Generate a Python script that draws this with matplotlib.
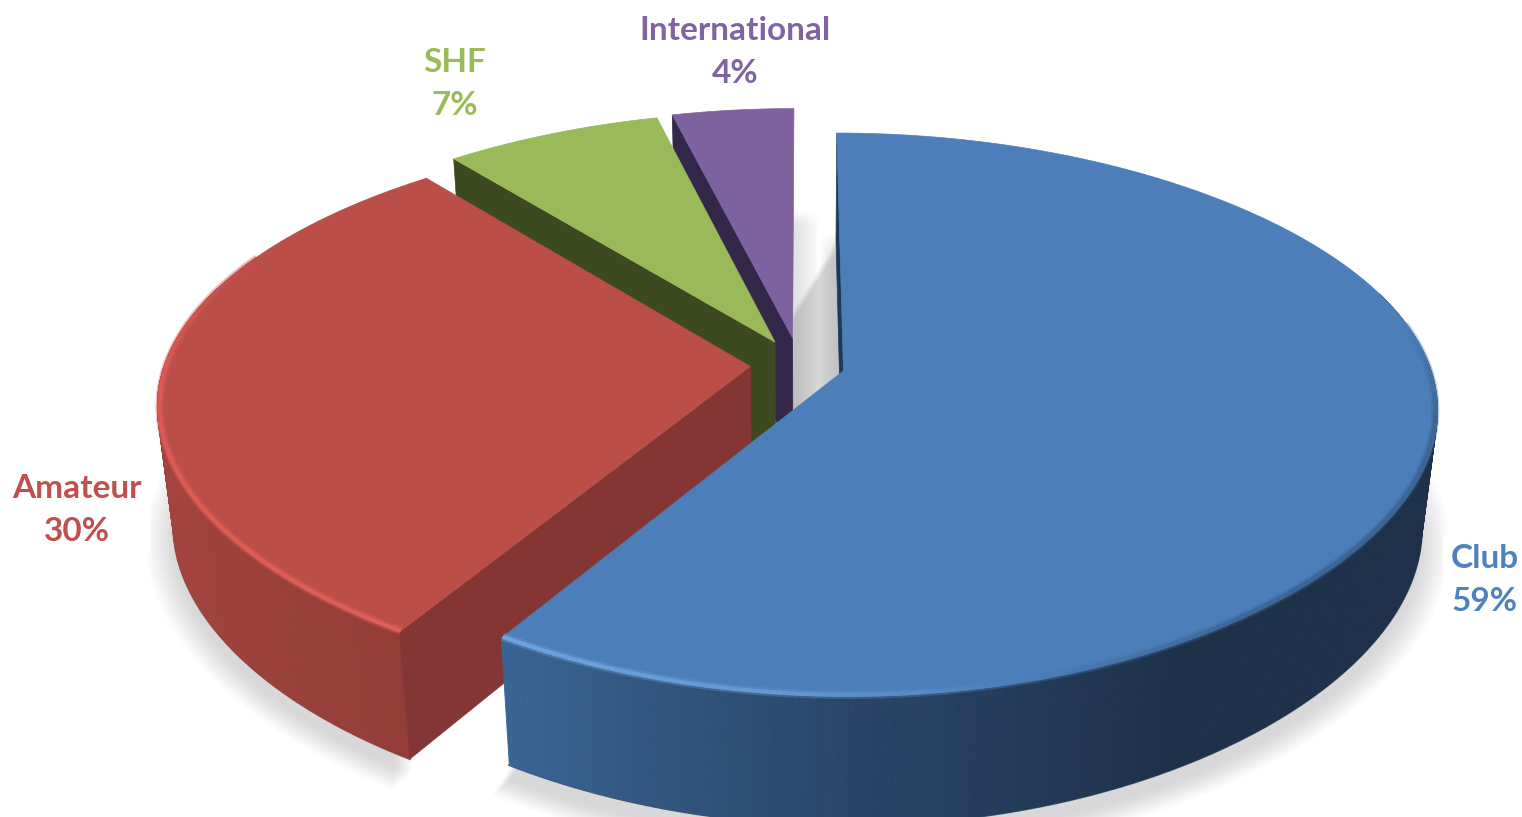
import numpy as np
import matplotlib
matplotlib.use("Agg")
import matplotlib.pyplot as plt
from matplotlib.collections import PolyCollection, LineCollection
from matplotlib.colors import to_rgb

# ---- data ----
categories = ["Club", "Amateur", "SHF", "International"]
values = [59, 30, 7, 4]

# ---- style ----
top_colors = ["#4c7eba", "#bc4e4a", "#9ab958", "#7e62a0"]
text_colors = ["#4f81bd", "#c0504d", "#9bbb59", "#8064a2"]
cut_colors = ["#1c3a58", "#843634", "#3d4920", "#33274a"]
side_stops = [
    [(120, "#1e3149"), (150, "#1e3149"), (180, "#2a4568"), (212, "#3a6494")],
    [(212, "#933d38"), (250, "#a3433e"), (280, "#a5443f"), (325, "#a5443f")],
    [(320, "#3d4920"), (346, "#3d4920")],
    [(346, "#33274a"), (360, "#33274a")],
]
rim_stops = [
    [(0, "#4c7eba"), (80, "#4c7eba"), (100, "#3c6594"), (140, "#3c6594"),
     (165, "#4c7eba"), (185, "#6496d2"), (212, "#6ea4e0")],
    [(212, "#e0605a"), (270, "#dc5a55"), (285, "#cc524e"), (295, "#bc4e4a")],
    [(320, "#9ab958"), (346, "#9ab958")],
    [(346, "#7e62a0"), (360, "#7e62a0")],
]
rim_range = [(80, 212.4), (212.4, 295), None, None]
explode = [0.077, 0.085, 0.095, 0.10]
label_xy = [(1485, 580), (77, 510), (455, 84), (735, 52)]

CX, CY = 800.0, 365.0
SX, KY, H = 586.0, 273.0, 120.0
P, Q = 0.155, 0.025
PX1, PX2 = 0.143, 0.04


def project(u, v, z):
    w = 1 - P * v + Q * z
    wx = 1 - PX1 * v + PX2 * v * v + Q * z
    return CX + SX * u / wx, CY + (KY * v + H * z) / w


def interp_colors(stops, t):
    a = [s[0] for s in stops]
    c = np.array([to_rgb(s[1]) for s in stops])
    return np.column_stack([np.interp(t, a, c[:, i]) for i in range(3)])


fractions = np.array(values, dtype=float) / sum(values)
edges = np.concatenate([[0], np.cumsum(fractions)]) * 360.0

fig = plt.figure(figsize=(15.22, 8.17), dpi=100)
ax = fig.add_axes([0, 0, 1, 1])


def ring(i, t, r, z):
    mid = np.radians((edges[i] + edges[i + 1]) / 2)
    ou, ov = explode[i] * np.sin(mid), -explode[i] * np.cos(mid)
    a = np.radians(t)
    return project(ou + r * np.sin(a), ov - r * np.cos(a), z), (ou, ov)


# soft ground shadow
for e in np.linspace(0.05, 0.0, 14):
    for i in range(len(values)):
        t = np.linspace(edges[i], edges[i + 1], 150)
        (x, y), (ou, ov) = ring(i, t, 1 + e, 1.12)
        ax.fill(x, y, color="#7a7a7a", alpha=0.02, lw=0, zorder=1)

# shadow on the back wall seen through the gap between slices
_, (ou0, ov0) = ring(0, np.array([0.0]), 1, 0)
xc, yc = project(ou0, ov0, 0)
xi, yi = ring(3, np.array([360.0]), 1, 0)[0]
gx = np.linspace(0, 1, 90)
gy = np.linspace(yi[0] + 90, yc + 50, 300)
fx = 0.12 * np.clip(1 - gx * 2.0, 0, 1) ** 0.8 + 0.13 * np.clip((gx - 0.5) / 0.5, 0, 1) ** 0.8
ytop = np.where(gx < 0.5, yi[0] + 102, yi[0] + 124)
fy = np.clip((gy[:, None] - ytop[None, :]) / 14, 0, 1)
rgba = np.zeros((len(gy), len(gx), 4))
rgba[..., 3] = fx[None, :] * fy
ax.imshow(rgba, extent=(xi[0], xc, gy[-1], gy[0]), aspect="auto", zorder=2, interpolation="bilinear")

# labels (white plate hides the shadow, as in the original)
for i, (cat, val) in enumerate(zip(categories, values)):
    ax.text(label_xy[i][0], label_xy[i][1], f"{cat}\n{val}%", ha="center", va="center",
            fontsize=24, fontweight="bold", family="Lato", color=text_colors[i],
            linespacing=1.55, zorder=5,
            bbox=dict(facecolor="white", edgecolor="none", pad=6))

# slices, from back to front
for order, i in enumerate([3, 2, 1, 0]):
    base = 10 + order * 3
    t = np.linspace(edges[i], edges[i + 1], 260)
    (xt, yt), (ou, ov) = ring(i, t, 1, 0)
    (xb, yb), _ = ring(i, t, 1, 1)
    front = np.cos(np.radians(t)) < 0.3   # only the wall turned to the viewer shows

    # dark lower edge, half covered by the wall
    if front.any():
        ax.plot(xb[front], yb[front], color=cut_colors[i], lw=1.6, zorder=base - 0.2, alpha=0.8)

    # outer wall
    polys = [[(xt[j], yt[j]), (xt[j + 1], yt[j + 1]), (xb[j + 1], yb[j + 1]), (xb[j], yb[j])]
             for j in range(len(t) - 1) if front[j]]
    cols = interp_colors(side_stops[i], ((t[:-1] + t[1:]) / 2)[front[:-1]])
    if polys:
        ax.add_collection(PolyCollection(polys, facecolors=cols, edgecolors=cols, linewidths=0.6, zorder=base))

    # cut face at the start of the slice
    ax_t, ay_t = project(ou, ov, 0)
    ax_b, ay_b = project(ou, ov, 1)
    ax.fill([ax_t, xt[0], xb[0], ax_b], [ay_t, yt[0], yb[0], ay_b], color=cut_colors[i],
            lw=0.5, zorder=base + 0.5)

    # top face
    ax.fill(np.r_[ax_t, xt], np.r_[ay_t, yt], color=top_colors[i], lw=0.5, zorder=base + 1)

    # bevelled rim
    if rim_range[i] is not None:
        tr = np.linspace(rim_range[i][0], rim_range[i][1], 260)
        (xr, yr), _ = ring(i, tr, 0.996, 0)
        pts = np.column_stack([xr, yr])
        segs = np.stack([pts[:-1], pts[1:]], axis=1)
        rim = interp_colors(rim_stops[i], (tr[:-1] + tr[1:]) / 2)
        soft = np.column_stack([rim, np.full(len(rim), 0.35)])
        ax.add_collection(LineCollection(segs, colors=soft, linewidths=6, zorder=base + 1.5, capstyle="butt"))
        ax.add_collection(LineCollection(segs, colors=rim, linewidths=3, zorder=base + 1.6, capstyle="butt"))

ax.set_xlim(0, 1522)
ax.set_ylim(817, 0)
ax.axis("off")
fig.savefig("out.png", dpi=100)
